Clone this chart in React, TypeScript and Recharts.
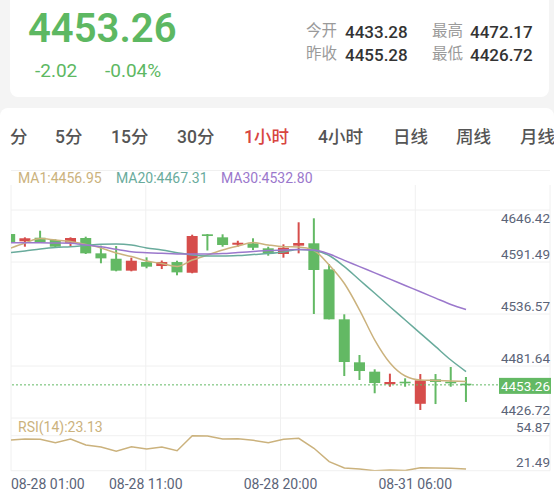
import React from 'react';
import { ComposedChart, Bar, Line, XAxis, YAxis, CartesianGrid, ReferenceLine } from 'recharts';

// ---- data (31 hourly candles) ----
const opens = [4612.6, 4604.9, 4608.7, 4606.3, 4603.4, 4608.4, 4592.2, 4586.5, 4573.9, 4583.0, 4578.8, 4583.0, 4571.7, 4612.3, 4609.1, 4601.3, 4602.8, 4597.5, 4591.5, 4600.3, 4602.8, 4575.3, 4522.5, 4477.1, 4467.2, 4453.9, 4456.6, 4433.28, 4459.1, 4456.6, 4454.5];
const closes = [4603.8, 4608.1, 4603.8, 4599.2, 4608.4, 4592.2, 4586.9, 4573.9, 4584.4, 4578.1, 4583.0, 4572.1, 4610.5, 4610.5, 4601.0, 4603.4, 4598.1, 4592.2, 4598.1, 4603.1, 4574.6, 4522.5, 4477.4, 4467.9, 4455.2, 4456.3, 4455.28, 4458.1, 4456.3, 4454.9, 4453.26];
const highs = [4613.5, 4609.1, 4616.1, 4607.0, 4609.1, 4609.8, 4600.3, 4599.9, 4587.6, 4588.0, 4584.6, 4584.4, 4611.9, 4612.6, 4612.3, 4605.5, 4608.1, 4599.2, 4601.7, 4625.0, 4629.2, 4580.9, 4527.8, 4484.8, 4469.7, 4465.1, 4460.2, 4464.7, 4464.7, 4472.17, 4461.6];
const lows = [4603.0, 4599.2, 4603.1, 4598.6, 4599.6, 4591.5, 4581.7, 4573.2, 4573.2, 4576.4, 4575.6, 4569.0, 4571.1, 4595.2, 4599.2, 4599.2, 4595.7, 4589.7, 4587.6, 4592.2, 4528.1, 4522.5, 4462.6, 4458.4, 4444.4, 4451.3, 4451.3, 4426.72, 4433.0, 4451.3, 4435.2];
const ma1 = [4597.3, 4603.1, 4607.8, 4606.3, 4604.7, 4601.5, 4597.8, 4592.5, 4588.8, 4584.1, 4581.4, 4578.3, 4585.1, 4590.4, 4595.7, 4599.9, 4603.6, 4601.0, 4599.2, 4598.9, 4595.2, 4579.9, 4560.3, 4532.3, 4500.6, 4476.4, 4462.6, 4458.4, 4458.0, 4457.4, 4456.95];
const ma20 = [4592.9, 4594.7, 4596.8, 4598.4, 4599.2, 4600.5, 4601.7, 4602.1, 4601.0, 4597.8, 4595.7, 4592.9, 4590.4, 4589.4, 4589.4, 4589.9, 4591.0, 4592.0, 4593.6, 4596.3, 4595.2, 4589.9, 4578.1, 4564.0, 4550.0, 4535.8, 4521.8, 4507.7, 4493.6, 4479.5, 4467.31];
const ma30 = [4603.4, 4603.4, 4603.4, 4603.1, 4602.8, 4601.0, 4599.2, 4596.4, 4593.9, 4592.9, 4592.2, 4591.5, 4591.5, 4591.5, 4592.0, 4593.1, 4594.1, 4595.2, 4595.7, 4596.3, 4595.7, 4591.5, 4584.8, 4578.2, 4571.5, 4564.9, 4558.2, 4551.6, 4544.9, 4538.2, 4532.80];
const rsi = [50.8, 51.7, 51.4, 48.2, 51.7, 46.0, 44.1, 40.0, 44.4, 42.2, 44.1, 40.6, 54.87, 54.6, 51.7, 52.0, 50.5, 48.2, 51.4, 52.4, 42.9, 30.1, 24.1, 23.1, 21.49, 22.2, 21.6, 24.4, 24.1, 23.8, 23.13];

const priceTicks = [4646.42, 4591.49, 4536.57, 4481.64, 4426.72];
const rsiTicks = [54.87, 21.49];
const timeLabels = ['08-28 01:00', '08-28 11:00', '08-28 20:00', '08-31 06:00'];
const tabs = ['分', '5分', '15分', '30分', '1小时', '4小时', '日线', '周线', '月线'];
const activeTab = '1小时';
const lastPrice = 4453.26;
const change = '-2.02';
const changePct = '-0.04%';
const stats = [
  ['今开', '4433.28', '最高', '4472.17'],
  ['昨收', '4455.28', '最低', '4426.72'],
];
const legendItems = [
  { name: 'MA1', value: '4456.95' },
  { name: 'MA20', value: '4467.31' },
  { name: 'MA30', value: '4532.80' },
];
const rsiLabel = 'RSI(14):23.13';

// ---- styles ----
const FONT = "Roboto, 'Noto Sans CJK SC', sans-serif";
const GREEN = '#63b964';
const RED = '#d64d4b';
const C_MA1 = '#cbb27d';
const C_MA20 = '#69ab9c';
const C_MA30 = '#9b78cc';
const AXIS = '#5b6478';
const GRID = '#f0f0f0';

const data = opens.map((o, i) => ({
  i,
  open: o,
  close: closes[i],
  high: highs[i],
  low: lows[i],
  ma1: ma1[i],
  ma20: ma20[i],
  ma30: ma30[i],
  rsi: rsi[i],
}));

const xDomain: [number, number] = [0.08, 35.52];
const xTicks = [0, 1, 2, 3].map((k) => xDomain[0] + (k * (xDomain[1] - xDomain[0])) / 4);
const priceDomain: [number, number] = [4418.27, 4664.38];
const rsiDomain: [number, number] = [21.49, 71.75];

const Candle = (props: any) => {
  const { x, y, width, height, payload } = props;
  if (!payload || x == null) return null;
  const { open, close, high, low } = payload;
  const top = Math.min(y, y + height);
  const h = Math.abs(height);
  const color = close >= open ? RED : GREEN;
  const ratio = h / (high - low || 1);
  const yO = top + (high - open) * ratio;
  const yC = top + (high - close) * ratio;
  const bt = Math.min(yO, yC);
  const bh = Math.max(Math.abs(yO - yC), 1.6);
  const cx = x + width / 2;
  return (
    <g>
      <line x1={cx} x2={cx} y1={top} y2={top + h} stroke={color} strokeWidth={2} />
      <rect x={x} y={bt} width={width} height={bh} fill={color} />
    </g>
  );
};

const PriceTick = (props: any) => {
  const { x, y, payload } = props;
  const isTop = payload.value === Math.max(...priceTicks);
  return (
    <text x={x} y={isTop ? y + 16 : y} textAnchor="end" dominantBaseline="central" fontSize={13.5} fill={AXIS} fontFamily={FONT}>
      {payload.value.toFixed(2)}
    </text>
  );
};

const RsiTick = (props: any) => {
  const { x, y, payload } = props;
  return (
    <text x={x} y={y - 9} textAnchor="end" dominantBaseline="central" fontSize={13.5} fill={AXIS} fontFamily={FONT}>
      {payload.value.toFixed(2)}
    </text>
  );
};

const TimeTick = (props: any) => {
  const { x, y, index } = props;
  return (
    <text x={x} y={y + 13} textAnchor={index === 0 ? 'start' : 'middle'} dominantBaseline="central" fontSize={14} fill={AXIS} fontFamily={FONT}>
      {timeLabels[index]}
    </text>
  );
};

const PriceTag = (props: any) => {
  const vb = props.viewBox || {};
  const right = (vb.x || 0) + (vb.width || 0);
  const yy = (vb.y || 0) + 1;
  return (
    <g>
      <rect x={right - 51} y={yy - 8} width={52} height={16} fill={GREEN} />
      <text x={right} y={yy} textAnchor="end" dominantBaseline="central" fontSize={13.5} fill="#fff" fontFamily={FONT}>
        {lastPrice.toFixed(2)}
      </text>
    </g>
  );
};

const abs = (s: React.CSSProperties): React.CSSProperties => ({ position: 'absolute', whiteSpace: 'nowrap', ...s });

export default function App() {
  return (
    <div style={{ position: 'absolute', left: 0, top: 0, width: 554, height: 494, background: '#f4f4f4', overflow: 'hidden', fontFamily: FONT }}>
      {/* header card */}
      <div style={abs({ left: 10, top: -10, width: 539, height: 107, background: '#fff', borderRadius: 8 })} />
      <div style={abs({ left: 28, top: 29, transform: 'translateY(-50%)', fontSize: 40, fontWeight: 600, color: '#5db862', lineHeight: 1 })}>
        {lastPrice.toFixed(2)}
      </div>
      <div style={abs({ left: 35, top: 70, transform: 'translateY(-50%)', fontSize: 19, color: '#5db862', lineHeight: 1 })}>{change}</div>
      <div style={abs({ left: 105, top: 70, transform: 'translateY(-50%)', fontSize: 19, color: '#5db862', lineHeight: 1 })}>{changePct}</div>
      {stats.map((row, r) => (
        <React.Fragment key={r}>
          <div style={abs({ left: 306, top: 32 + r * 23, transform: 'translateY(-50%)', fontSize: 15.5, color: '#9a9a9a', lineHeight: 1 })}>{row[0]}</div>
          <div style={abs({ left: 345, top: 32 + r * 23, transform: 'translateY(-50%)', fontSize: 17, fontWeight: 500, color: '#333', lineHeight: 1 })}>{row[1]}</div>
          <div style={abs({ left: 432, top: 32 + r * 23, transform: 'translateY(-50%)', fontSize: 15.5, color: '#9a9a9a', lineHeight: 1 })}>{row[2]}</div>
          <div style={abs({ left: 470, top: 32 + r * 23, transform: 'translateY(-50%)', fontSize: 17, fontWeight: 500, color: '#333', lineHeight: 1 })}>{row[3]}</div>
        </React.Fragment>
      ))}

      {/* content card */}
      <div style={abs({ left: 0, top: 108, width: 554, height: 400, background: '#fff', borderRadius: 8 })} />
      {tabs.map((t, k) => {
        const lefts = [10, 55, 111, 177, 244, 318, 393, 456, 520];
        return (
          <div key={t} style={abs({ left: lefts[k], top: 138, transform: 'translateY(-50%)', fontSize: 17.5, fontWeight: 500, color: t === activeTab ? '#d8453f' : '#555', lineHeight: 1 })}>
            {t}
          </div>
        );
      })}
      <div style={abs({ left: 11, top: 170, width: 539, height: 1, background: GRID })} />
      {legendItems.map((it, k) => {
        const lefts = [18, 116, 221];
        const colors = [C_MA1, C_MA20, C_MA30];
        return (
          <div key={it.name} style={abs({ left: lefts[k], top: 178, transform: 'translateY(-50%)', fontSize: 14, color: colors[k], lineHeight: 1 })}>
            {it.name}:{it.value}
          </div>
        );
      })}

      {/* main pane */}
      <div style={abs({ left: 0, top: 160 })}>
        <ComposedChart width={554} height={260} data={data} margin={{ top: 25, right: 4, left: 11, bottom: 2 }}>
          <CartesianGrid stroke={GRID} horizontalPoints={[50, 102, 154, 206, 258]} vertical={true} />
          <XAxis dataKey="i" type="number" domain={xDomain} ticks={xTicks} allowDataOverflow hide interval={0} />
          <YAxis
            orientation="right"
            mirror
            type="number"
            domain={priceDomain}
            allowDataOverflow
            ticks={priceTicks}
            interval={0}
            axisLine={false}
            tickLine={false}
            tickSize={0}
            tickMargin={0}
            tick={<PriceTick />}
          />
          <Bar dataKey={(d: any) => [d.low, d.high]} barSize={11} shape={<Candle />} isAnimationActive={false} />
          <Line dataKey="ma1" type="monotone" stroke={C_MA1} strokeWidth={1.5} dot={false} isAnimationActive={false} />
          <Line dataKey="ma20" type="monotone" stroke={C_MA20} strokeWidth={1.5} dot={false} isAnimationActive={false} />
          <Line dataKey="ma30" type="monotone" stroke={C_MA30} strokeWidth={1.5} dot={false} isAnimationActive={false} />
          <ReferenceLine y={lastPrice} stroke={GREEN} strokeDasharray="2 2" label={(p: any) => <PriceTag {...p} />} />
        </ComposedChart>
      </div>

      {/* RSI pane */}
      <div style={abs({ left: 18, top: 427, transform: 'translateY(-50%)', fontSize: 14, color: C_MA1, lineHeight: 1, zIndex: 2 })}>{rsiLabel}</div>
      <div style={abs({ left: 0, top: 418 })}>
        <ComposedChart width={554} height={76} data={data} margin={{ top: 0, right: 4, left: 11, bottom: 0 }}>
          <CartesianGrid stroke={GRID} horizontalPoints={[17.7, 52.7]} vertical={true} />
          <XAxis
            dataKey="i"
            type="number"
            domain={xDomain}
            ticks={xTicks}
            allowDataOverflow
            interval={0}
            axisLine={false}
            tickLine={false}
            tickSize={0}
            tickMargin={0}
            height={23.3}
            tick={<TimeTick />}
          />
          <YAxis
            orientation="right"
            mirror
            type="number"
            domain={rsiDomain}
            allowDataOverflow
            ticks={rsiTicks}
            interval={0}
            axisLine={false}
            tickLine={false}
            tickSize={0}
            tickMargin={0}
            tick={<RsiTick />}
          />
          <Line dataKey="rsi" type="linear" stroke={C_MA1} strokeWidth={1.5} dot={false} isAnimationActive={false} />
        </ComposedChart>
      </div>
    </div>
  );
}
